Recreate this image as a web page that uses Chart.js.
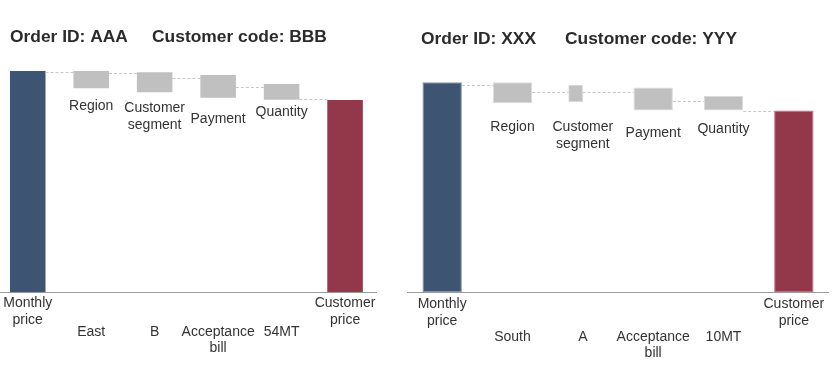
<!DOCTYPE html>
<html><head><meta charset="utf-8">
<script src="https://cdn.jsdelivr.net/npm/chart.js@4.4.0/dist/chart.umd.min.js"></script>
<style>
html,body{margin:0;padding:0;background:#fff;overflow:hidden;width:840px;height:389px;position:relative;}
.box{position:absolute;top:0;height:389px;}
#b1{left:-4px;width:382px;}
#b2{left:407px;width:422px;}
</style></head><body>
<div class="box" id="b1"><canvas id="c1"></canvas></div>
<div class="box" id="b2"><canvas id="c2"></canvas></div>
<script>
// ---- data ----
const categories = ['Monthly price', 'Region', 'Customer segment', 'Payment', 'Quantity', 'Customer price'];

const leftTitle = 'Order ID: AAA     Customer code: BBB';
const leftDetails = ['', 'East', 'B', 'Acceptance bill', '54MT', ''];
const leftLow  = [0, 92.2, 90.4, 87.9, 87.0, 0];
const leftHigh = [100, 100, 99.4, 98.2, 94.1, 86.9];
const leftLinks = [99.5, 99.0, 96.9, 92.9, 87.2];

const rightTitle = 'Order ID: XXX      Customer code: YYY';
const rightDetails = ['', 'South', 'A', 'Acceptance bill', '10MT', ''];
const rightLow  = [0, 85.4, 86.1, 82.1, 82.1, 0];
const rightHigh = [94.9, 94.9, 93.7, 92.6, 88.7, 82.1];
const rightLinks = [93.5, 90.4, 90.4, 86.3, 81.9];

// ---- style ----
const FAMILY = "'Liberation Sans', Arial, sans-serif";
Chart.defaults.font.family = FAMILY;
Chart.defaults.font.size = 14;
Chart.defaults.color = '#333';

const palette = { blue: '#3d5573', red: '#93374a', gray: '#c0c0c0' };
const borderPalette = { blue: '#8195ab', red: '#b9707f', gray: '#dadada' };

const wrap = s => (s && s.includes(' ')) ? s.split(' ') : s;
const colorsFor = (pal, n) => Array.from({ length: n }, (_, i) => i === 0 ? pal.blue : (i === n - 1 ? pal.red : pal.gray));

const headPlugin = {
  id: 'head',
  afterDraw(chart, args, opts) {
    const ctx = chart.ctx;
    ctx.save();
    ctx.font = 'bold 17.4px ' + FAMILY;
    ctx.fillStyle = '#2b2b2b';
    ctx.textAlign = 'left';
    ctx.textBaseline = 'middle';
    ctx.fillText(opts.text, chart.chartArea.left + opts.inset, opts.y);
    ctx.restore();
  }
};

const linkPlugin = {
  id: 'links',
  afterDatasetsDraw(chart, args, opts) {
    const bars = [];
    chart.data.datasets.forEach((ds, di) => {
      const meta = chart.getDatasetMeta(di);
      meta.data.forEach((el, i) => {
        if (ds.data[i] == null) return;
        const p = el.getProps(['x', 'width'], true);
        bars.push({ l: p.x - p.width / 2, r: p.x + p.width / 2 });
      });
    });
    bars.sort((a, b) => a.l - b.l);
    const y = chart.scales.y, ctx = chart.ctx;
    ctx.save();
    ctx.strokeStyle = opts.color;
    ctx.lineWidth = 1;
    ctx.setLineDash(opts.dash);
    opts.levels.forEach((v, i) => {
      if (!bars[i + 1]) return;
      const py = Math.round(y.getPixelForValue(v)) + 0.5;
      ctx.beginPath();
      ctx.moveTo(bars[i].r, py);
      ctx.lineTo(bars[i + 1].l, py);
      ctx.stroke();
    });
    ctx.restore();
  }
};

const stepLabelPlugin = {
  id: 'stepLabels',
  afterDatasetsDraw(chart, args, opts) {
    const x = chart.scales.x, y = chart.scales.y, ctx = chart.ctx;
    const n = categories.length;
    ctx.save();
    ctx.font = '14px ' + FAMILY;
    ctx.fillStyle = '#333';
    ctx.textAlign = 'center';
    ctx.textBaseline = 'middle';
    categories.forEach((lab, i) => {
      if (i === 0 || i === n - 1) return;
      const lines = [].concat(wrap(lab));
      const top = y.getPixelForValue(opts.low[i]) + opts.gaps[i - 1];
      lines.forEach((ln, k) => ctx.fillText(ln, x.getPixelForValue(i), top + k * 17));
    });
    ctx.restore();
  }
};

// let stacked bottom axes draw labels outside their own box (no label clipping)
const noLabelClip = s => { s._computeLabelArea = () => undefined; };

function build(id, o) {
  const n = categories.length;
  const H1 = 30;
  const mainData = categories.map((c, i) => o.narrow === i ? null : [o.low[i], o.high[i]]);
  const datasets = [{
    data: mainData,
    backgroundColor: colorsFor(palette, n),
    borderColor: o.border ? colorsFor(borderPalette, n) : 'rgba(0,0,0,0)',
    borderWidth: o.border ? 1 : 0,
    borderSkipped: false,
    barPercentage: 0.56,
    categoryPercentage: 1,
    grouped: false
  }];
  const scales = {
    x: {
      type: 'category', offset: true,
      grid: { display: false, drawTicks: false },
      border: { display: true, color: '#9a9a9a', width: 1 },
      ticks: {
        autoSkip: false, maxRotation: 0, minRotation: 0,
        padding: o.tickPad,
        font: { size: 14, lineHeight: 1.24 }, color: '#333',
        callback: (v, i) => (i === 0 || i === n - 1) ? wrap(categories[i]) : ''
      },
      afterFit: s => { s.height = H1; noLabelClip(s); }
    },
    x2: {
      type: 'category', position: 'bottom', weight: 1, labels: o.details, offset: true,
      grid: { display: false, drawTicks: false },
      border: { display: false },
      ticks: {
        autoSkip: false, maxRotation: 0, minRotation: 0,
        padding: o.detailPad,
        font: { size: 14, lineHeight: 1.2 }, color: '#333',
        callback: (v, i) => wrap(o.details[i])
      },
      afterFit: s => { s.height = 389 - 292 - H1; noLabelClip(s); }
    },
    y: { display: false, min: 0, max: 105 }
  };
  if (o.narrow != null) {
    datasets.push({
      xAxisID: 'xs',
      data: [{ x: o.narrow + o.narrowShift, y: [o.low[o.narrow], o.high[o.narrow]] }],
      backgroundColor: palette.gray,
      borderColor: o.border ? borderPalette.gray : 'rgba(0,0,0,0)',
      borderWidth: o.border ? 1 : 0,
      borderSkipped: false,
      barThickness: o.narrowWidth,
      grouped: false
    });
    scales.xs = { type: 'linear', position: 'bottom', display: false, min: -0.5, max: n - 0.5 };
  }
  return new Chart(document.getElementById(id), {
    type: 'bar',
    data: { labels: categories, datasets },
    options: {
      responsive: true, maintainAspectRatio: false, animation: false,
      layout: { padding: { top: 60, left: 0, right: 0, bottom: 0 } },
      plugins: {
        legend: { display: false },
        tooltip: { enabled: false },
        title: { display: false },
        head: { text: o.title, inset: 14, y: o.titleY },
        links: { levels: o.links, color: '#c6c6c6', dash: [3, 2] },
        stepLabels: { low: o.low, gaps: o.gaps }
      },
      scales
    },
    plugins: [headPlugin, linkPlugin, stepLabelPlugin]
  });
}

build('c1', {
  title: leftTitle, titleY: 37.5, details: leftDetails,
  low: leftLow, high: leftHigh, links: leftLinks,
  gaps: [17.7, 15.7, 21.3, 12], tickPad: 2.6, detailPad: 1.3, border: false
});
build('c2', {
  title: rightTitle, titleY: 38.8, details: rightDetails,
  low: rightLow, high: rightHigh, links: rightLinks,
  gaps: [23.4, 25, 22.3, 18.3], tickPad: 3.4, detailPad: 6.3, border: true,
  narrow: 2, narrowShift: -0.223, narrowWidth: 14
});
</script>
</body></html>
